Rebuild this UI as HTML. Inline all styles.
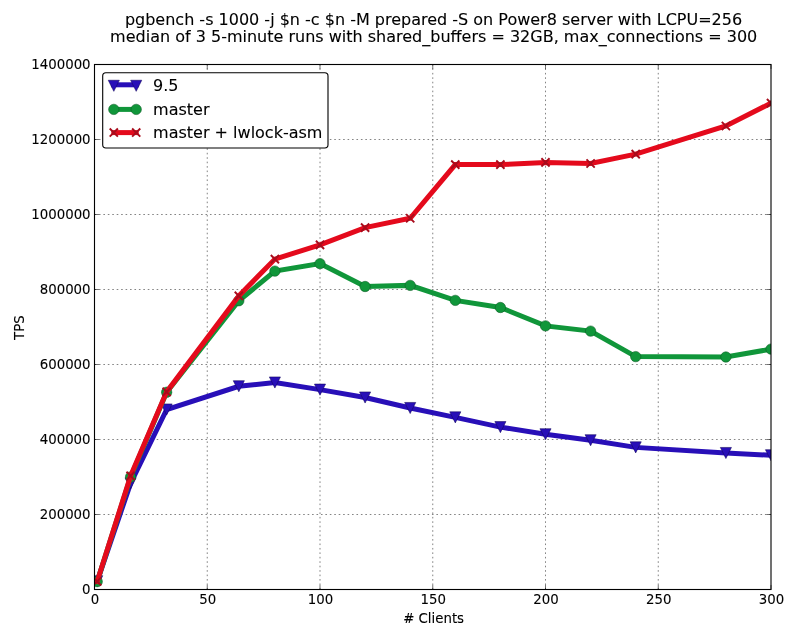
<!DOCTYPE html>
<html lang="en">
<head>
<meta charset="utf-8">
<title>pgbench TPS chart</title>
<style>
html,body{margin:0;padding:0;background:#fff;}
body{width:800px;height:640px;overflow:hidden;}
svg{display:block;}
svg text{font-family:"DejaVu Sans", "Liberation Sans", sans-serif;fill:#000;stroke:#000;stroke-width:0.1px;}
.t16{font-size:16px;}
.t13{font-size:13.33px;}
</style>
</head>
<body>
<svg width="800" height="640" viewBox="0 0 800 640">
<rect x="0" y="0" width="800" height="640" fill="#fff"/>
<text class="t16" x="433.5" y="25" text-anchor="middle">pgbench -s 1000 -j $n -c $n -M prepared -S on Power8 server with LCPU=256</text>
<text class="t16" x="433.7" y="42" text-anchor="middle">median of 3 5-minute runs with shared_buffers = 32GB, max_connections = 300</text>
<g stroke="#222" stroke-width="0.56" stroke-dasharray="1.6 2.84" fill="none">
<path d="M207.25 589.50 V64.50"/>
<path d="M320.00 589.50 V64.50"/>
<path d="M432.75 589.50 V64.50"/>
<path d="M545.50 589.50 V64.50"/>
<path d="M658.25 589.50 V64.50"/>
<path d="M94.50 514.50 H771.00"/>
<path d="M94.50 439.50 H771.00"/>
<path d="M94.50 364.50 H771.00"/>
<path d="M94.50 289.50 H771.00"/>
<path d="M94.50 214.50 H771.00"/>
<path d="M94.50 139.50 H771.00"/>
</g>
<defs><clipPath id="ax"><rect x="94.50" y="64.50" width="676.50" height="525.00"/></clipPath></defs>
<g clip-path="url(#ax)">
<polyline points="97.21,581.25 130.58,483.38 166.66,409.50 238.82,386.25 274.90,382.50 320.00,389.62 365.10,397.50 410.20,408.00 455.30,417.38 500.40,427.12 545.50,434.25 590.60,440.25 635.70,447.38 725.90,453.00 771.00,455.25" fill="none" stroke="#280fb8" stroke-width="5.00" stroke-linejoin="miter" stroke-linecap="square"/>
<path d="M91.66 575.70 L102.76 575.70 L97.21 586.80 Z" fill="#280fb8" stroke="#12065e" stroke-width="0.56" stroke-linejoin="miter"/>
<path d="M125.03 477.82 L136.13 477.82 L130.58 488.93 Z" fill="#280fb8" stroke="#12065e" stroke-width="0.56" stroke-linejoin="miter"/>
<path d="M161.11 403.95 L172.21 403.95 L166.66 415.05 Z" fill="#280fb8" stroke="#12065e" stroke-width="0.56" stroke-linejoin="miter"/>
<path d="M233.27 380.70 L244.37 380.70 L238.82 391.80 Z" fill="#280fb8" stroke="#12065e" stroke-width="0.56" stroke-linejoin="miter"/>
<path d="M269.35 376.95 L280.45 376.95 L274.90 388.05 Z" fill="#280fb8" stroke="#12065e" stroke-width="0.56" stroke-linejoin="miter"/>
<path d="M314.45 384.07 L325.55 384.07 L320.00 395.18 Z" fill="#280fb8" stroke="#12065e" stroke-width="0.56" stroke-linejoin="miter"/>
<path d="M359.55 391.95 L370.65 391.95 L365.10 403.05 Z" fill="#280fb8" stroke="#12065e" stroke-width="0.56" stroke-linejoin="miter"/>
<path d="M404.65 402.45 L415.75 402.45 L410.20 413.55 Z" fill="#280fb8" stroke="#12065e" stroke-width="0.56" stroke-linejoin="miter"/>
<path d="M449.75 411.82 L460.85 411.82 L455.30 422.93 Z" fill="#280fb8" stroke="#12065e" stroke-width="0.56" stroke-linejoin="miter"/>
<path d="M494.85 421.57 L505.95 421.57 L500.40 432.68 Z" fill="#280fb8" stroke="#12065e" stroke-width="0.56" stroke-linejoin="miter"/>
<path d="M539.95 428.70 L551.05 428.70 L545.50 439.80 Z" fill="#280fb8" stroke="#12065e" stroke-width="0.56" stroke-linejoin="miter"/>
<path d="M585.05 434.70 L596.15 434.70 L590.60 445.80 Z" fill="#280fb8" stroke="#12065e" stroke-width="0.56" stroke-linejoin="miter"/>
<path d="M630.15 441.82 L641.25 441.82 L635.70 452.93 Z" fill="#280fb8" stroke="#12065e" stroke-width="0.56" stroke-linejoin="miter"/>
<path d="M720.35 447.45 L731.45 447.45 L725.90 458.55 Z" fill="#280fb8" stroke="#12065e" stroke-width="0.56" stroke-linejoin="miter"/>
<path d="M765.45 449.70 L776.55 449.70 L771.00 460.80 Z" fill="#280fb8" stroke="#12065e" stroke-width="0.56" stroke-linejoin="miter"/>
<polyline points="97.21,581.62 130.58,477.00 166.66,392.25 238.82,300.75 274.90,271.12 320.00,263.62 365.10,286.50 410.20,285.38 455.30,300.38 500.40,307.50 545.50,325.88 590.60,331.12 635.70,356.62 725.90,357.00 771.00,349.12" fill="none" stroke="#10963a" stroke-width="5.00" stroke-linejoin="miter" stroke-linecap="square"/>
<circle cx="97.21" cy="581.62" r="5.20" fill="#10963a" stroke="#0a5a24" stroke-width="0.56"/>
<circle cx="130.58" cy="477.00" r="5.20" fill="#10963a" stroke="#0a5a24" stroke-width="0.56"/>
<circle cx="166.66" cy="392.25" r="5.20" fill="#10963a" stroke="#0a5a24" stroke-width="0.56"/>
<circle cx="238.82" cy="300.75" r="5.20" fill="#10963a" stroke="#0a5a24" stroke-width="0.56"/>
<circle cx="274.90" cy="271.12" r="5.20" fill="#10963a" stroke="#0a5a24" stroke-width="0.56"/>
<circle cx="320.00" cy="263.62" r="5.20" fill="#10963a" stroke="#0a5a24" stroke-width="0.56"/>
<circle cx="365.10" cy="286.50" r="5.20" fill="#10963a" stroke="#0a5a24" stroke-width="0.56"/>
<circle cx="410.20" cy="285.38" r="5.20" fill="#10963a" stroke="#0a5a24" stroke-width="0.56"/>
<circle cx="455.30" cy="300.38" r="5.20" fill="#10963a" stroke="#0a5a24" stroke-width="0.56"/>
<circle cx="500.40" cy="307.50" r="5.20" fill="#10963a" stroke="#0a5a24" stroke-width="0.56"/>
<circle cx="545.50" cy="325.88" r="5.20" fill="#10963a" stroke="#0a5a24" stroke-width="0.56"/>
<circle cx="590.60" cy="331.12" r="5.20" fill="#10963a" stroke="#0a5a24" stroke-width="0.56"/>
<circle cx="635.70" cy="356.62" r="5.20" fill="#10963a" stroke="#0a5a24" stroke-width="0.56"/>
<circle cx="725.90" cy="357.00" r="5.20" fill="#10963a" stroke="#0a5a24" stroke-width="0.56"/>
<circle cx="771.00" cy="349.12" r="5.20" fill="#10963a" stroke="#0a5a24" stroke-width="0.56"/>
<polyline points="97.21,581.44 130.58,475.88 166.66,391.88 238.82,295.88 274.90,259.12 320.00,244.88 365.10,227.62 410.20,218.25 455.30,164.62 500.40,164.62 545.50,162.38 590.60,163.50 635.70,154.12 725.90,126.00 771.00,103.12" fill="none" stroke="#e40a1c" stroke-width="5.00" stroke-linejoin="miter" stroke-linecap="square"/>
<path d="M93.11 577.34 L101.31 585.54 M93.11 585.54 L101.31 577.34" fill="none" stroke="#a80c1c" stroke-width="1.9"/>
<path d="M126.48 471.77 L134.68 479.98 M126.48 479.98 L134.68 471.77" fill="none" stroke="#a80c1c" stroke-width="1.9"/>
<path d="M162.56 387.77 L170.76 395.98 M162.56 395.98 L170.76 387.77" fill="none" stroke="#a80c1c" stroke-width="1.9"/>
<path d="M234.72 291.77 L242.92 299.98 M234.72 299.98 L242.92 291.77" fill="none" stroke="#a80c1c" stroke-width="1.9"/>
<path d="M270.80 255.03 L279.00 263.23 M270.80 263.23 L279.00 255.03" fill="none" stroke="#a80c1c" stroke-width="1.9"/>
<path d="M315.90 240.78 L324.10 248.97 M315.90 248.97 L324.10 240.78" fill="none" stroke="#a80c1c" stroke-width="1.9"/>
<path d="M361.00 223.53 L369.20 231.72 M361.00 231.72 L369.20 223.53" fill="none" stroke="#a80c1c" stroke-width="1.9"/>
<path d="M406.10 214.15 L414.30 222.35 M406.10 222.35 L414.30 214.15" fill="none" stroke="#a80c1c" stroke-width="1.9"/>
<path d="M451.20 160.53 L459.40 168.72 M451.20 168.72 L459.40 160.53" fill="none" stroke="#a80c1c" stroke-width="1.9"/>
<path d="M496.30 160.53 L504.50 168.72 M496.30 168.72 L504.50 160.53" fill="none" stroke="#a80c1c" stroke-width="1.9"/>
<path d="M541.40 158.28 L549.60 166.47 M541.40 166.47 L549.60 158.28" fill="none" stroke="#a80c1c" stroke-width="1.9"/>
<path d="M586.50 159.40 L594.70 167.60 M586.50 167.60 L594.70 159.40" fill="none" stroke="#a80c1c" stroke-width="1.9"/>
<path d="M631.60 150.03 L639.80 158.22 M631.60 158.22 L639.80 150.03" fill="none" stroke="#a80c1c" stroke-width="1.9"/>
<path d="M721.80 121.90 L730.00 130.10 M721.80 130.10 L730.00 121.90" fill="none" stroke="#a80c1c" stroke-width="1.9"/>
<path d="M766.90 99.03 L775.10 107.22 M766.90 107.22 L775.10 99.03" fill="none" stroke="#a80c1c" stroke-width="1.9"/>
</g>
<g stroke="#000" stroke-width="0.56" fill="none">
<path d="M94.50 589.50 v-4.44 M94.50 64.50 v4.44"/>
<path d="M207.25 589.50 v-4.44 M207.25 64.50 v4.44"/>
<path d="M320.00 589.50 v-4.44 M320.00 64.50 v4.44"/>
<path d="M432.75 589.50 v-4.44 M432.75 64.50 v4.44"/>
<path d="M545.50 589.50 v-4.44 M545.50 64.50 v4.44"/>
<path d="M658.25 589.50 v-4.44 M658.25 64.50 v4.44"/>
<path d="M771.00 589.50 v-4.44 M771.00 64.50 v4.44"/>
<path d="M94.50 589.50 h4.44 M771.00 589.50 h-4.44"/>
<path d="M94.50 514.50 h4.44 M771.00 514.50 h-4.44"/>
<path d="M94.50 439.50 h4.44 M771.00 439.50 h-4.44"/>
<path d="M94.50 364.50 h4.44 M771.00 364.50 h-4.44"/>
<path d="M94.50 289.50 h4.44 M771.00 289.50 h-4.44"/>
<path d="M94.50 214.50 h4.44 M771.00 214.50 h-4.44"/>
<path d="M94.50 139.50 h4.44 M771.00 139.50 h-4.44"/>
<path d="M94.50 64.50 h4.44 M771.00 64.50 h-4.44"/>
</g>
<rect x="94.50" y="64.50" width="676.50" height="525.00" fill="none" stroke="#000" stroke-width="1.11"/>
<text class="t13" x="95.00" y="604.4" text-anchor="middle">0</text>
<text class="t13" x="207.75" y="604.4" text-anchor="middle">50</text>
<text class="t13" x="320.50" y="604.4" text-anchor="middle">100</text>
<text class="t13" x="433.25" y="604.4" text-anchor="middle">150</text>
<text class="t13" x="546.00" y="604.4" text-anchor="middle">200</text>
<text class="t13" x="658.75" y="604.4" text-anchor="middle">250</text>
<text class="t13" x="771.50" y="604.4" text-anchor="middle">300</text>
<text class="t13" x="90.6" y="593.50" text-anchor="end">0</text>
<text class="t13" x="90.6" y="518.50" text-anchor="end">200000</text>
<text class="t13" x="90.6" y="443.50" text-anchor="end">400000</text>
<text class="t13" x="90.6" y="368.50" text-anchor="end">600000</text>
<text class="t13" x="90.6" y="293.50" text-anchor="end">800000</text>
<text class="t13" x="90.6" y="218.50" text-anchor="end">1000000</text>
<text class="t13" x="90.6" y="143.50" text-anchor="end">1200000</text>
<text class="t13" x="90.6" y="68.50" text-anchor="end">1400000</text>
<text class="t13" x="433.6" y="623.2" text-anchor="middle"># Clients</text>
<text class="t13" transform="translate(24 327.7) rotate(-90)" text-anchor="middle">TPS</text>
<rect x="102.70" y="72.80" width="225.30" height="75.20" rx="3.2" ry="3.2" fill="#fff" stroke="#000" stroke-width="1.11"/>
<path d="M113.80 84.80 H136.20" stroke="#280fb8" stroke-width="5.00" stroke-linecap="square" fill="none"/>
<path d="M108.25 80.25 L119.35 80.25 L113.80 91.35 Z" fill="#280fb8" stroke="#12065e" stroke-width="0.56" stroke-linejoin="miter"/>
<path d="M130.65 80.25 L141.75 80.25 L136.20 91.35 Z" fill="#280fb8" stroke="#12065e" stroke-width="0.56" stroke-linejoin="miter"/>
<path d="M113.80 109.40 H136.20" stroke="#10963a" stroke-width="5.00" stroke-linecap="square" fill="none"/>
<circle cx="113.80" cy="109.40" r="5.20" fill="#10963a" stroke="#0a5a24" stroke-width="0.56"/>
<circle cx="136.20" cy="109.40" r="5.20" fill="#10963a" stroke="#0a5a24" stroke-width="0.56"/>
<path d="M113.80 132.60 H136.20" stroke="#e40a1c" stroke-width="5.00" stroke-linecap="square" fill="none"/>
<path d="M109.70 128.50 L117.90 136.70 M109.70 136.70 L117.90 128.50" fill="none" stroke="#a80c1c" stroke-width="1.9"/>
<path d="M132.10 128.50 L140.30 136.70 M132.10 136.70 L140.30 128.50" fill="none" stroke="#a80c1c" stroke-width="1.9"/>
<text class="t16" x="153.1" y="90.60">9.5</text>
<text class="t16" x="153.1" y="114.60">master</text>
<text class="t16" x="153.1" y="138.30">master + lwlock-asm</text>
</svg>
</body>
</html>
